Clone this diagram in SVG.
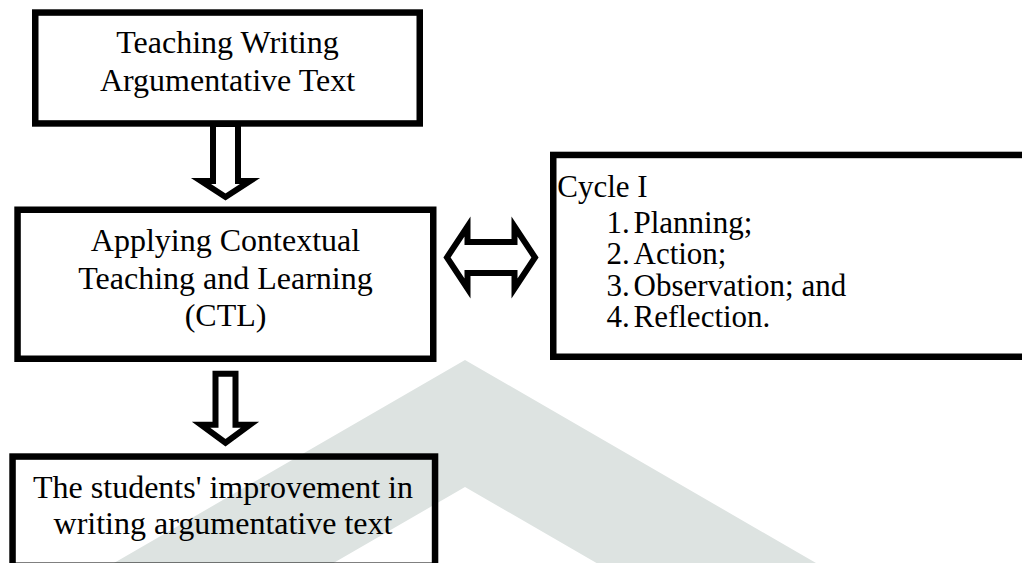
<svg xmlns="http://www.w3.org/2000/svg" width="1022" height="563" viewBox="0 0 1022 563">
  <style>
    .box { fill: none; stroke: #000; stroke-width: 6.5; }
    .arrow { fill: #fff; stroke: #000; stroke-width: 6; stroke-linejoin: miter; stroke-miterlimit: 10; }
    .t { font-family: "Liberation Serif", "Times New Roman", serif; font-size: 32px; fill: #000; }
    .s { font-size: 31px; }
    .c { text-anchor: middle; }
    .wm { fill: #dde3e1; }
  </style>
  <rect x="0" y="0" width="1022" height="563" fill="#fff"/>
  <polygon class="wm" points="114,563 465,360 816,563 596.5,563 465,487 333.5,563"/>

  <g id="connectors">
    <polygon class="arrow" points="213,124 213,181 201,181 225.5,197 250,181 238,181 238,124"/>
    <polygon class="arrow" points="215.5,373.7 215.5,424.7 201,424.7 225.5,442.7 250,424.7 235.5,424.7 235.5,373.7"/>
    <polygon class="arrow" points="447,257.5 467.5,226.5 467.5,242 514.5,242 514.5,226.5 535,257.5 514.5,288.5 514.5,273 467.5,273 467.5,288.5"/>
  </g>

  <g id="node-teaching">
    <rect class="box" x="35.25" y="12.55" width="384.5" height="110.9"/>
    <text class="t c" x="227.5" y="53.3">Teaching Writing</text>
    <text class="t c" x="227.5" y="90.7">Argumentative Text</text>
  </g>

  <g id="node-ctl">
    <rect class="box" x="17.55" y="209.75" width="415.7" height="149"/>
    <text class="t c" x="225.5" y="251">Applying Contextual</text>
    <text class="t c" x="225.5" y="288.5">Teaching and Learning</text>
    <text class="t c" x="225.5" y="326">(CTL)</text>
  </g>

  <g id="node-cycle">
    <rect class="box" x="553.25" y="154.95" width="500" height="201.8"/>
    <text class="t s" x="557.3" y="197">Cycle I</text>
    <text class="t s" x="606.5" y="232.5">1.</text>
    <text class="t s" x="633.5" y="232.5">Planning;</text>
    <text class="t s" x="606.5" y="264">2.</text>
    <text class="t s" x="633.5" y="264">Action;</text>
    <text class="t s" x="606.5" y="295.5">3.</text>
    <text class="t s" x="633.5" y="295.5">Observation; and</text>
    <text class="t s" x="606.5" y="327">4.</text>
    <text class="t s" x="633.5" y="327">Reflection.</text>
  </g>

  <g id="node-improvement">
    <rect class="box" x="12.55" y="456.55" width="422.5" height="109.2"/>
    <text class="t c" x="223" y="497.5">The students' improvement in</text>
    <text class="t c" x="223" y="534">writing argumentative text</text>
  </g>
</svg>
